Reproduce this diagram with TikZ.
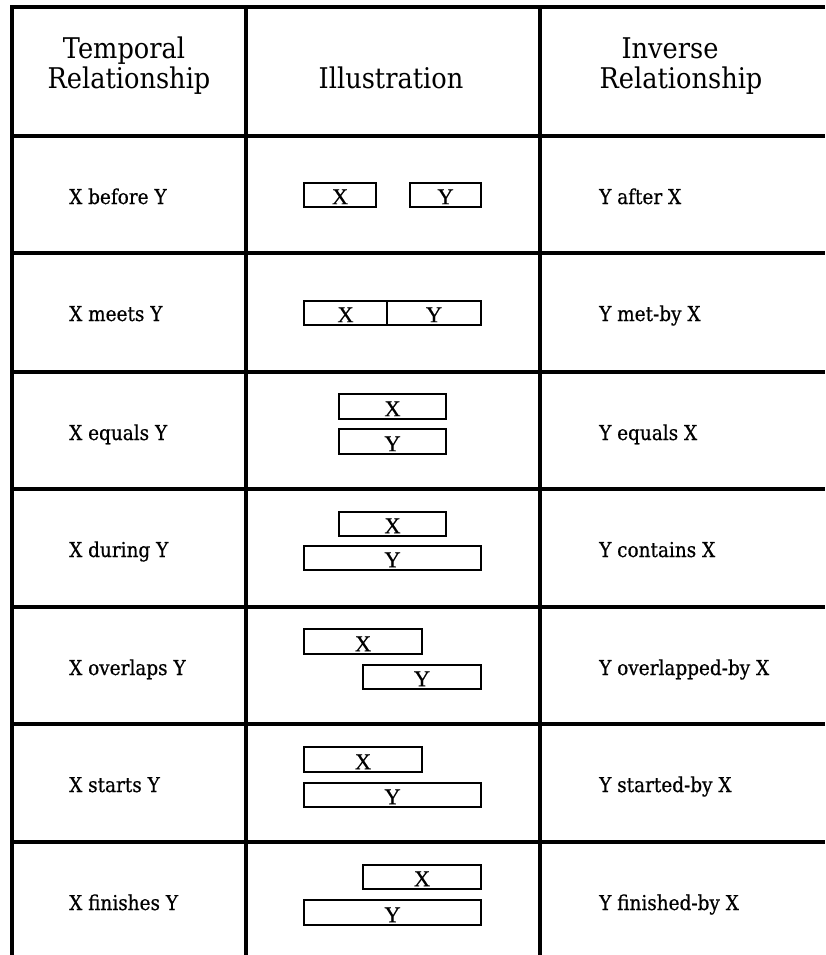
\documentclass[tikz,border=0pt]{standalone}
\usepackage{fontspec}
\setmainfont[FakeStretch=0.9]{DejaVu Serif}
\newfontfamily\cellfont[FakeStretch=0.9,FakeBold=0.6]{DejaVu Serif}
\newfontfamily\barfont[FakeBold=0.4]{Liberation Serif}

% one interval bar: name, left, top, right, bottom, letter
\newcommand\intervalbar[6]{%
  \node[ivbox, minimum width={#4pt-#2pt}, minimum height={#5pt-#3pt}] (#1) at (#2,#3) {};
  \node[barlabel] (#1-l) at ([yshift=2.8pt]#1.south) {#6};
}

\begin{document}
\begin{tikzpicture}[x=1pt,y=-1pt,
  rule/.style={line width=3.8pt},
  ivbox/.style={draw, line width=2.3pt, inner sep=0pt, outer sep=0pt, anchor=north west},
  barlabel/.style={anchor=base, inner sep=0pt, outer sep=0pt, font=\barfont\fontsize{22.5}{23}\selectfont},
  head/.style={anchor=base, inner sep=0pt, font=\fontsize{28.5}{30}\selectfont},
  cell/.style={anchor=base west, inner sep=0pt, font=\cellfont\fontsize{20.5}{24}\selectfont}]
\useasboundingbox (0,0) rectangle (825,955);

% table rules
\draw[rule] (825,7) -- (12,7) -- (12,955);
\draw[rule] (246,7) -- (246,955);
\draw[rule] (540,7) -- (540,955);
\foreach \y in {136,253,372,489,607,724,842}
  \draw[rule] (12,\y) -- (825,\y);

% column headings
\node[head] (h1a) at (124,59) {Temporal};
\node[head] (h1b) at (129,89) {Relationship};
\node[head] (h2)  at (391,89) {Illustration};
\node[head] (h3a) at (670,59) {Inverse};
\node[head] (h3b) at (681,89) {Relationship};

% relation names
\foreach \t/\a/\b [count=\i from 0] in {
  204/X before Y/Y after X,
  321/X meets Y/Y met-by X,
  440/X equals Y/Y equals X,
  557/X during Y/Y contains X,
  675/X overlaps Y/Y overlapped-by X,
  792/X starts Y/Y started-by X,
  910/X finishes Y/Y finished-by X}{
  \node[cell] (r\i) at (69,\t) {\a};
  \node[cell] (v\i) at (599,\t) {\b};
}

% illustrations
\intervalbar{bx}{304}{183}{376}{207}{X}
\intervalbar{by}{410}{183}{481}{207}{Y}

\intervalbar{mx}{304}{301}{387}{325}{X}
\intervalbar{my}{387}{301}{481}{325}{Y}

\intervalbar{ex}{339}{394}{446}{419}{X}
\intervalbar{ey}{339}{429}{446}{454}{Y}

\intervalbar{dx}{339}{512}{446}{536}{X}
\intervalbar{dy}{304}{546}{481}{570}{Y}

\intervalbar{ox}{304}{629}{422}{654}{X}
\intervalbar{oy}{363}{665}{481}{689}{Y}

\intervalbar{sx}{304}{747}{422}{772}{X}
\intervalbar{sy}{304}{783}{481}{807}{Y}

\intervalbar{fx}{363}{865}{481}{889}{X}
\intervalbar{fy}{304}{900}{481}{925}{Y}
\end{tikzpicture}
\end{document}
